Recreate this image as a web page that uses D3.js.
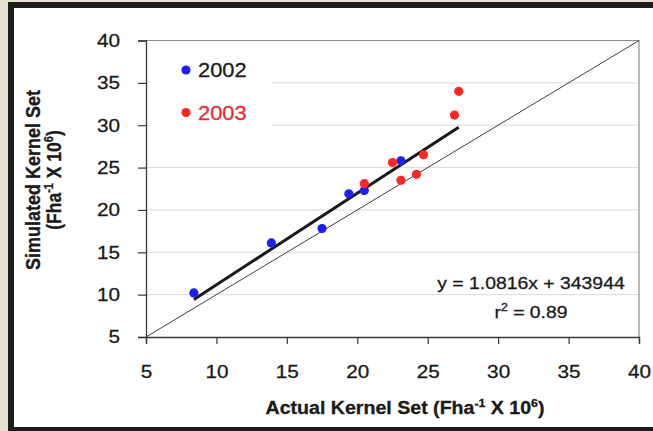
<!DOCTYPE html>
<html>
<head>
<meta charset="utf-8">
<script src="https://cdn.jsdelivr.net/npm/d3@7"></script>
<style>
  html, body { margin: 0; padding: 0; background: #e6dece; }
  svg { display: block; }
  text { font-family: "Liberation Sans", Arial, sans-serif; fill: #1a1a1a; }
</style>
</head>
<body>
<svg id="chart" width="653" height="431"></svg>
<script>
// Kernel set per hectare (millions), actual vs simulated
const actual2002    = [8.4, 13.9, 17.5, 19.4, 20.5, 23.1];
const simulated2002 = [10.2, 16.1, 17.8, 21.9, 22.3, 25.8];
const actual2003    = [20.5, 22.5, 23.1, 24.2, 24.7, 26.9, 27.2];
const simulated2003 = [23.1, 25.6, 23.5, 24.2, 26.5, 31.2, 34.0];

const seriesNames  = ["2002", "2003"];
const seriesColors = ["#1f1ff0", "#ff2626"];
const legendText   = ["#1a1a1a", "#e62e3a"];

const xTicks = [5, 10, 15, 20, 25, 30, 35, 40];
const yTicks = [5, 10, 15, 20, 25, 30, 35, 40];

// Linear fit reported on the chart
const slope = 1.0816;
const intercept = 343944;   // in plants per ha
const rSquared = 0.89;

const SX = 1.12;  // horizontal glyph stretch

const svg = d3.select("#chart");
const W = 653, H = 431;

// panel frame
svg.append("rect").attr("x", 0).attr("y", 0).attr("width", W).attr("height", H).attr("fill", "#e6dece");
svg.append("rect").attr("x", 8).attr("y", 2).attr("width", W - 8).attr("height", H - 2).attr("fill", "#1d1d1d");
svg.append("rect").attr("x", 14).attr("y", 8).attr("width", W - 14).attr("height", 419).attr("fill", "#ffffff");

const plot = { left: 146, right: 639, top: 40.5, bottom: 337 };
const x = d3.scaleLinear().domain([5, 40]).range([plot.left, plot.right]);
const y = d3.scaleLinear().domain([5, 40]).range([plot.bottom, plot.top]);

// horizontal gridlines
svg.append("g").selectAll("line")
  .data(yTicks.filter(v => v > 5 && v < 40))
  .join("line")
  .attr("x1", plot.left).attr("x2", plot.right)
  .attr("y1", d => y(d)).attr("y2", d => y(d))
  .attr("stroke", "#dadada").attr("stroke-width", 1);

// plot border (top and right)
svg.append("path")
  .attr("d", `M${plot.left},${plot.top}H${plot.right}V${plot.bottom}`)
  .attr("fill", "none").attr("stroke", "#8c8c8c").attr("stroke-width", 1.2);

// legend background hides gridlines behind it
svg.append("rect").attr("x", 150).attr("y", 46).attr("width", 122).attr("height", 92).attr("fill", "#ffffff");

// axes
function stretchText(sel) {
  sel.each(function() {
    const t = d3.select(this);
    const bx = +t.attr("x") || 0;
    t.attr("x", bx / SX).attr("transform", `scale(${SX},1)`);
  });
}
function heavy(sel, color) {
  sel.style("fill", color).style("stroke", color).style("stroke-width", 0.3);
}

const yAxis = d3.axisLeft(y).tickValues(yTicks).tickSize(8).tickPadding(18).tickFormat(d3.format("d"));
const gy = svg.append("g").attr("transform", `translate(${plot.left},0)`).call(yAxis);
gy.select(".domain").attr("stroke", "#3a3a3a").attr("stroke-width", 1.3);
gy.selectAll(".tick line").attr("stroke", "#3a3a3a").attr("stroke-width", 1.2);
gy.selectAll(".tick text").attr("font-size", 18.5)
  .attr("font-family", '"Liberation Sans", Arial, sans-serif').call(stretchText).call(heavy, "#1a1a1a");

const xAxis = d3.axisBottom(x).tickValues(xTicks).tickSize(7).tickPadding(21).tickFormat(d3.format("d"));
const gx = svg.append("g").attr("transform", `translate(0,${plot.bottom})`).call(xAxis);
gx.select(".domain").attr("stroke", "#3a3a3a").attr("stroke-width", 1.3);
gx.selectAll(".tick line").attr("stroke", "#3a3a3a").attr("stroke-width", 1.2);
gx.selectAll(".tick text").attr("font-size", 18.5)
  .attr("font-family", '"Liberation Sans", Arial, sans-serif').call(stretchText).call(heavy, "#1a1a1a");

// 1:1 line
svg.append("line")
  .attr("x1", x(5)).attr("y1", y(5)).attr("x2", x(40)).attr("y2", y(40))
  .attr("stroke", "#2a2a2a").attr("stroke-width", 0.9);

// fitted line across the range of observed values
const allActual = actual2002.concat(actual2003);
const fx0 = d3.min(allActual), fx1 = d3.max(allActual);
const fit = v => slope * v + intercept / 1e6;
svg.append("line")
  .attr("x1", x(fx0)).attr("y1", y(fit(fx0)))
  .attr("x2", x(fx1)).attr("y2", y(fit(fx1)))
  .attr("stroke", "#1a1a1a").attr("stroke-width", 3);

// points
const series = [
  { name: seriesNames[0], xs: actual2002, ys: simulated2002, color: seriesColors[0] },
  { name: seriesNames[1], xs: actual2003, ys: simulated2003, color: seriesColors[1] }
];
series.forEach(s => {
  svg.append("g").selectAll("circle")
    .data(s.xs.map((v, i) => [v, s.ys[i]]))
    .join("circle")
    .attr("cx", d => x(d[0])).attr("cy", d => y(d[1]))
    .attr("r", 4.6).attr("fill", s.color);
});

// legend
const legendY = [70, 112.5];
series.forEach((s, i) => {
  svg.append("circle").attr("cx", 186).attr("cy", legendY[i]).attr("r", 4.6).attr("fill", s.color);
  svg.append("text")
    .attr("x", 198 / SX).attr("y", legendY[i] + 7.3)
    .attr("transform", `scale(${SX},1)`)
    .attr("font-size", 19.5)
    .call(heavy, legendText[i])
    .text(s.name);
});

// regression annotation
svg.append("text")
  .attr("x", 531 / SX).attr("y", 289).attr("transform", `scale(${SX},1)`)
  .attr("text-anchor", "middle").attr("font-size", 17.3)
  .call(heavy, "#1a1a1a")
  .text(`y = ${slope}x + ${intercept}`);
const r2 = svg.append("text")
  .attr("x", 531 / SX).attr("y", 318).attr("transform", `scale(${SX},1)`)
  .attr("text-anchor", "middle").attr("font-size", 17.3)
  .call(heavy, "#1a1a1a");
r2.append("tspan").text("r");
r2.append("tspan").attr("font-size", 11).attr("dy", -7).text("2");
r2.append("tspan").attr("dy", 7).text(` = ${rSquared}`);

// axis titles
function unitParts(t) {
  t.append("tspan").text("(Fha");
  t.append("tspan").attr("font-size", 11).attr("dy", -7).text("-1");
  t.append("tspan").attr("dy", 7).text(" X 10");
  t.append("tspan").attr("font-size", 11).attr("dy", -7).text("6");
  t.append("tspan").attr("dy", 7).text(")");
}

const xt = svg.append("text")
  .attr("x", 405 / SX).attr("y", 414).attr("transform", `scale(${SX},1)`)
  .attr("text-anchor", "middle").attr("font-size", 17.5).attr("font-weight", "bold")
  .call(heavy, "#1a1a1a");
xt.append("tspan").text("Actual Kernel Set ");
unitParts(xt);

const yt = svg.append("g").attr("transform", "translate(0,180) rotate(-90) scale(1," + SX + ")");
yt.append("text").attr("x", 0).attr("y", 40 / SX)
  .attr("text-anchor", "middle").attr("font-size", 18).attr("font-weight", "bold")
  .call(heavy, "#1a1a1a")
  .text("Simulated Kernel Set");
const yt2 = yt.append("text").attr("x", 0).attr("y", 61 / SX)
  .attr("text-anchor", "middle").attr("font-size", 17.5).attr("font-weight", "bold")
  .call(heavy, "#1a1a1a");
unitParts(yt2);
</script>
</body>
</html>
